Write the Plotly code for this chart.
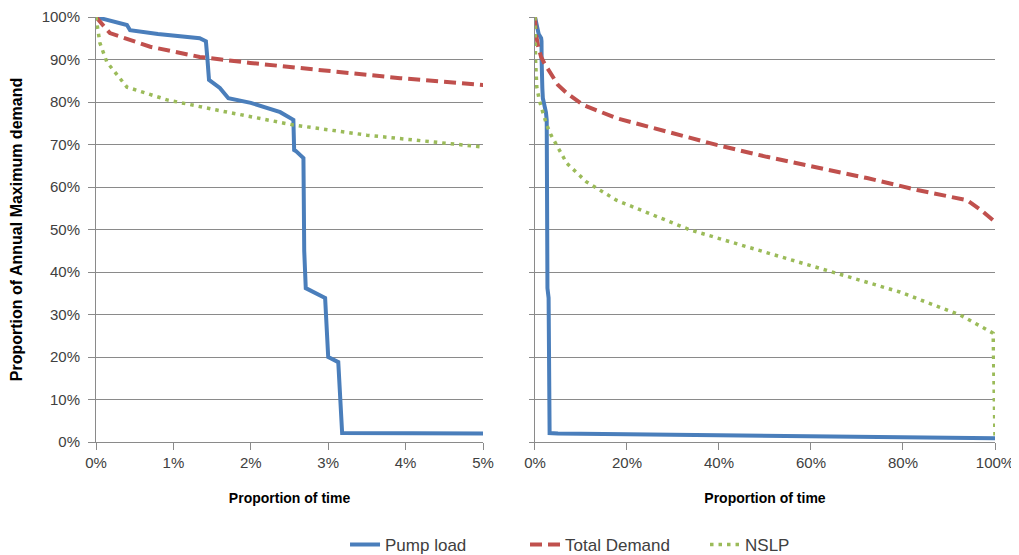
import plotly.graph_objects as go

# Proportion of time (%) and proportion of annual maximum demand (%)
pump_x = [0, 0.40, 0.44, 0.80, 1.34, 1.42, 1.44, 1.46, 1.60, 1.71, 2.00, 2.38, 2.55, 2.56, 2.58, 2.68,
          2.69, 2.71, 2.96, 2.98, 3.00, 3.13, 3.15, 3.18, 5.0, 20, 40, 60, 80, 100]
pump_y = [100, 98.1, 96.9, 96.0, 95.0, 94.3, 90.0, 85.2, 83.3, 80.9, 79.8, 77.6, 75.8, 68.7, 68.5, 66.8,
          45.0, 36.2, 33.9, 25.0, 20.0, 18.8, 10.0, 2.1, 2.0, 1.8, 1.6, 1.4, 1.2, 0.9]

td_x = [0, 0.18, 0.70, 1.34, 1.99, 2.64, 3.28, 3.93, 5.0, 6.9, 10.5, 17.7, 28.6, 39.5, 50.4, 61.3,
        72.2, 83.1, 93.9, 96.9, 100]
td_y = [100, 96.2, 93.0, 90.6, 89.2, 88.0, 86.8, 85.6, 84.0, 82.1, 79.3, 76.2, 73.0, 69.9, 67.1, 64.7,
        62.1, 59.3, 56.9, 54.6, 51.8]

nslp_x = [0, 0.05, 0.14, 0.40, 0.92, 1.56, 2.55, 3.50, 5.0, 6.9, 11.2, 17.7, 33.7, 50.4, 64.8,
          79.3, 92.4, 99.6, 100]
nslp_y = [100, 93.9, 89.4, 83.5, 80.5, 78.1, 74.6, 72.2, 69.4, 65.6, 61.2, 56.9, 49.9, 44.5, 40.0,
          35.3, 29.9, 25.6, 1.0]

left_ticks = [0, 1, 2, 3, 4, 5]
left_labels = ["0%", "1%", "2%", "3%", "4%", "5%"]
right_ticks = [0, 20, 40, 60, 80, 100]
right_labels = ["0%", "20%", "40%", "60%", "80%", "100%"]
y_ticks = [0, 10, 20, 30, 40, 50, 60, 70, 80, 90, 100]
y_labels = [f"{v}%" for v in y_ticks]

series = [
    ("Pump load", pump_x, pump_y, dict(color="#4a7ebb", width=4)),
    ("Total Demand", td_x, td_y, dict(color="#c0504d", width=4, dash="12px,6px")),
    ("NSLP", nslp_x, nslp_y, dict(color="#9bbb59", width=3.5, dash="3.5px,5px")),
]

fig = go.Figure()
for name, xs, ys, line in series:
    fig.add_trace(go.Scatter(x=xs, y=ys, mode="lines", name=name, line=line,
                             xaxis="x", yaxis="y", showlegend=True, hoverinfo="skip"))
for name, xs, ys, line in series:
    fig.add_trace(go.Scatter(x=xs, y=ys, mode="lines", name=name, line=line,
                             xaxis="x2", yaxis="y2", showlegend=False, hoverinfo="skip"))

grid = "#8a8a8a"
FONT = "Liberation Sans, Arial, sans-serif"
tickfont = dict(family=FONT, size=15, color="#404040")
titlefont = dict(family=FONT, size=14, color="#000000")

common_x = dict(showgrid=False, showline=True, linecolor=grid, linewidth=1,
                ticks="outside", ticklen=7, tickcolor=grid, tickfont=tickfont,
                zeroline=False, fixedrange=True, automargin=False)
common_y = dict(range=[0, 100], tickvals=y_ticks, showgrid=True, gridcolor=grid, gridwidth=1,
                showline=True, linecolor=grid, linewidth=1, ticks="outside",
                tickcolor=grid, zeroline=False, fixedrange=True, automargin=False)

# page body has an 8px default margin, so the figure is sized to fit the window
fig.update_layout(
    width=1011, height=547,
    margin=dict(l=88, r=24, t=9, b=113, autoexpand=False),
    paper_bgcolor="white", plot_bgcolor="white",
    font=dict(family=FONT, color="#404040"),
    xaxis=dict(domain=[0, 0.4305], range=[0, 5], tickvals=left_ticks, ticktext=left_labels,
               title=dict(text="<b>Proportion of time</b>", font=titlefont, standoff=23),
               anchor="y", **common_x),
    xaxis2=dict(domain=[0.4883, 1], range=[0, 100], tickvals=right_ticks, ticktext=right_labels,
                title=dict(text="<b>Proportion of time</b>", font=titlefont, standoff=23),
                anchor="y2", **common_x),
    yaxis=dict(ticktext=y_labels, tickfont=tickfont, anchor="x", ticklen=7, ticklabelstandoff=5,
               title=dict(text="<b>Proportion of Annual Maximum demand</b>",
                          font=dict(family=FONT, size=16, color="#000000"), standoff=15),
               **common_y),
    yaxis2=dict(showticklabels=False, anchor="x2", ticklen=5, **common_y),
    legend=dict(orientation="h", x=0.277, xanchor="left", y=-0.242, yanchor="middle",
                font=dict(family=FONT, size=17, color="#404040"),
                bgcolor="rgba(0,0,0,0)", itemwidth=30, entrywidth=135, entrywidthmode="pixels"),
)

fig.write_html("out.html")
